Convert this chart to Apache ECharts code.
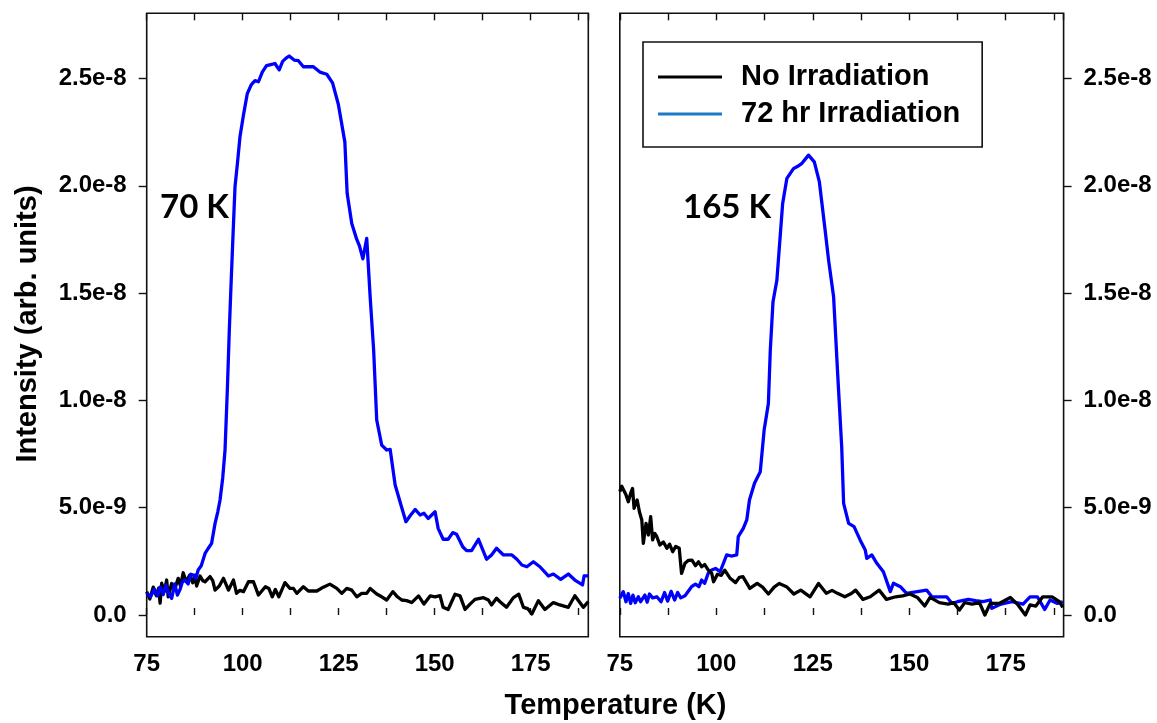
<!DOCTYPE html>
<html><head><meta charset="utf-8">
<script src="https://cdn.jsdelivr.net/npm/echarts@6/dist/echarts.min.js"></script>
<style>html,body{margin:0;padding:0;background:#fff}#c{width:1157px;height:723px}</style>
</head><body><div id="c"></div><script>
// Temperatures (K) and intensities (units of 1e-9, arb.)
const leftBlackT = [75,75.8,76.7,77.5,78.1,78.5,78.9,79.6,80.2,80.6,81.5,82.3,83.2,83.8,84.5,85.3,86.2,87.0,87.6,88.0,88.9,89.6,90.2,91.5,92.2,92.8,93.9,95.0,96.3,97.6,98.4,99.3,100.2,101.5,102.8,104.1,105.9,106.8,107.7,108.5,109.4,111.0,112.3,113.2,114.1,115.8,117.1,119.3,121.0,122.7,124.5,125.8,127.1,128.4,129.7,131.0,132.3,133.2,134.9,136.2,137.5,139.1,140.3,141.4,142.7,144.0,145.8,147.2,148.8,150.1,151.4,152.2,153.5,155.3,156.6,157.9,159.2,160.5,162.7,164.0,164.8,166.1,167.0,168.7,170.5,171.9,173.1,174.2,175.3,177.0,178.7,180.9,182.6,184.8,186.5,188.7,190];
const leftBlackV = [1.09,0.75,1.3,0.9,1.25,0.55,1.48,1.1,1.63,0.85,1.47,1.2,1.71,1.35,1.97,1.55,1.86,1.5,1.86,1.35,1.82,1.6,1.55,1.79,1.6,1.16,1.35,1.71,1.16,1.63,1.01,1.15,1.09,1.55,1.55,0.93,1.32,1.24,0.85,1.19,0.85,1.51,1.24,1.24,1.01,1.32,1.12,1.12,1.3,1.44,1.24,1.01,1.24,1.16,0.85,1.01,1.01,1.24,0.98,0.85,0.7,1.09,0.85,0.7,0.67,0.58,0.89,0.51,0.89,0.85,0.9,0.36,0.26,0.97,0.89,0.26,0.51,0.73,0.81,0.7,0.47,0.78,0.62,0.36,0.81,0.97,0.36,0.3,0.05,0.67,0.26,0.58,0.47,0.36,0.9,0.36,0.62];

const leftBlueT = [75,76,77,77.8,78.5,79.3,80,80.7,81.5,82.3,83.0,83.7,84.3,85,85.8,86.5,87.1,87.8,88.4,89.2,90.2,91.0,91.9,92.8,93.5,94.1,94.8,95.4,96.0,96.5,96.9,97.5,98.0,98.6,99.3,100.2,101.2,102.2,103.2,104.1,105.1,106.2,107.3,108.4,109.5,110.4,111.3,112.1,113.4,114.5,115.8,117.1,118.4,120.1,121.9,123.4,124.9,126.6,127.2,128.4,129.7,130.4,131.3,132.3,133.2,134.1,134.9,136.2,137.5,138.4,139.7,141.1,142.5,143.7,144.9,146.2,147.2,148.3,150.1,150.9,152.2,153.5,154.7,155.7,157.3,158.3,159.6,161.4,163.5,164.8,166.1,167.9,170.1,171.4,172.7,174.0,175.7,177.4,179.6,180.9,182.8,184.8,186.5,188.5,188.9,190];
const leftBlueV = [1.01,0.85,1.2,0.9,1.3,0.95,1.4,1.0,0.78,1.45,0.93,1.2,1.55,1.63,1.45,1.9,1.86,1.7,2.1,2.3,2.87,3.1,3.34,4.27,4.8,5.36,6.4,7.69,10.5,13.2,15.1,17.8,19.96,21.0,22.3,23.3,24.3,24.7,24.9,24.85,25.3,25.6,25.65,25.7,25.4,25.8,25.95,26.05,25.86,25.83,25.55,25.55,25.55,25.3,25.2,24.8,23.8,22.05,19.65,18.25,17.5,17.2,16.6,17.55,14.8,12.35,9.09,7.92,7.69,7.72,6.06,5.2,4.35,4.65,4.92,4.66,4.74,4.5,4.81,4.04,3.53,3.53,3.84,3.76,3.18,3.0,3.0,3.53,2.6,2.8,3.11,2.8,2.8,2.6,2.33,2.25,2.48,2.25,1.82,1.91,1.66,1.91,1.63,1.40,1.82,1.82];

const rightBlackT = [75.0,75.5,75.9,76.6,77.2,77.8,78.3,78.7,79.1,79.5,80.1,80.7,81.1,81.8,82.4,83.0,83.5,84.1,84.6,85.4,86.3,87.2,87.9,88.7,89.5,90.4,91.0,91.9,92.8,93.7,94.6,95.4,96.2,97.0,97.9,98.8,99.3,100.3,101.3,102.2,103.6,105.0,106.0,106.9,108.7,110.6,112.0,113.5,115.0,116.3,118.2,120.1,121.9,124.3,126.5,128.5,130.0,131.4,133.3,135.0,136.1,138.0,139.9,142.2,144.1,146.5,148.3,150.2,152.1,154.0,155.4,157.8,160.1,161.5,163.0,164.4,166.3,168.2,169.6,171.0,173.3,176.2,178.0,180.1,181.3,182.8,184.6,187.0,188.9,189.8];
const rightBlackV = [5.75,6.0,6.06,5.6,5.28,5.67,5.9,4.97,5.2,5.36,4.8,4.43,3.34,4.27,3.73,4.58,3.5,3.8,3.65,3.26,3.4,3.11,3.3,2.95,3.2,3.11,1.94,2.41,2.55,2.56,2.3,2.48,2.25,2.35,2.1,1.95,1.55,1.9,1.85,2.09,1.71,1.51,1.76,1.79,1.24,1.47,1.3,0.98,1.3,1.47,1.32,0.98,1.16,0.85,1.47,1.01,1.15,1.01,0.85,1.0,1.16,0.73,0.85,1.16,0.73,0.85,0.89,0.98,0.82,0.42,0.82,0.58,0.51,0.58,0.23,0.58,0.51,0.58,0.0,0.54,0.54,0.82,0.51,0.0,0.47,0.42,0.85,0.85,0.62,0.36];

const rightBlueT = [75.0,75.9,76.6,77.2,77.8,78.4,79.0,79.8,80.4,81.5,82.1,82.7,83.5,84.6,85.7,86.6,87.4,88.3,89.2,90.0,90.8,91.9,93.6,94.6,95.5,96.2,97.0,97.9,98.8,99.8,101.0,101.5,102.7,103.9,105.3,105.7,107.0,107.9,108.6,109.9,111.4,112.4,113.5,114.0,114.7,115.7,117.2,118.3,120.0,121.0,122.2,123.9,125.4,126.7,128.2,129.1,130.4,131.4,132.5,133.0,134.3,135.7,137.3,138.6,139.0,140.3,141.6,143.3,145.1,145.9,147.7,149.3,152.1,154.5,155.9,157.8,159.7,161.1,162.5,165.3,167.2,169.1,171.0,171.4,173.8,176.6,179.5,181.3,183.2,185.1,186.5,188.4,189.8];
const rightBlueV = [0.78,1.09,0.62,1.0,0.54,0.93,0.57,0.85,0.62,0.93,0.6,0.98,0.8,0.85,0.62,1.05,0.65,1.1,0.7,1.05,0.8,0.9,1.32,1.44,1.32,1.63,1.48,1.94,2.1,2.17,2.02,2.25,2.8,2.75,2.8,3.65,4.04,4.43,5.36,6.14,6.68,8.62,9.86,12.35,14.6,15.6,19.18,20.35,20.8,20.9,21.05,21.43,21.12,20.2,17.94,16.54,14.83,11.42,7.84,5.2,4.27,4.12,3.49,3.03,2.64,2.8,2.41,2.02,1.09,1.48,1.32,1.01,1.09,1.16,0.85,0.85,0.85,0.54,0.62,0.73,0.67,0.62,0.7,0.31,0.51,0.62,0.51,0.85,0.85,0.26,0.7,0.54,0.62];

const yTickValues = [0, 5, 10, 15, 20, 25];   // ×1e-9
const xLabelValues = [75, 100, 125, 150, 175];
const seriesNames = ['No Irradiation', '72 hr Irradiation'];
const panelLabels = ['70 K', '165 K'];

const zip = (t, v) => t.map((x, i) => [x, v[i]]);
const FONT = '"Liberation Sans", Arial, Helvetica, sans-serif';
const yFmt = v => v === 0 ? '0.0' : (v * 1e-9).toExponential(1);
const xFmt = v => (xLabelValues.indexOf(v) >= 0 ? String(v) : '');

const gridTop = 13.3, gridH = 623.4;
const grids = [
  {left: 146.7, top: gridTop, width: 441.6, height: gridH},
  {left: 619.8, top: gridTop, width: 443.8, height: gridH}
].map(g => Object.assign(g, {show: true, borderColor: '#111', borderWidth: 1.6, backgroundColor: 'transparent'}));

function xAxisFor(gi, pos) {
  return {
    type: 'value', gridIndex: gi, position: pos, min: 75, max: 190, interval: 12.5,
    axisLine: {show: false}, splitLine: {show: false},
    axisTick: {show: true, inside: true, length: 7, lineStyle: {color: '#111', width: 1.4}},
    axisLabel: {show: pos === 'bottom', formatter: xFmt, margin: 16, color: '#000',
      fontSize: 24, fontWeight: 'bold', fontFamily: FONT, showMinLabel: true, showMaxLabel: false}
  };
}
function yAxisFor(gi, pos) {
  return {
    type: 'value', gridIndex: gi, position: pos, min: -1.01, max: 28.04,
    axisLine: {show: false}, splitLine: {show: false},
    axisTick: {show: true, inside: false, length: 8, customValues: yTickValues, lineStyle: {color: '#111', width: 1.4}},
    axisLabel: {show: true, customValues: yTickValues, formatter: yFmt, margin: 20, color: '#000',
      fontSize: 24, fontWeight: 'bold', fontFamily: FONT}
  };
}

const lineSeries = (name, gi, data, color, z) => ({
  type: 'line', name, xAxisIndex: gi * 2, yAxisIndex: gi, data, showSymbol: false, symbol: 'none',
  lineStyle: {color, width: 3.3, join: 'round'}, itemStyle: {color}, z, animation: false
});

const chart = echarts.init(document.getElementById('c'), null, {renderer: 'canvas'});
chart.setOption({
  animation: false,
  backgroundColor: '#fff',
  grid: grids,
  xAxis: [xAxisFor(0, 'bottom'), xAxisFor(0, 'top'), xAxisFor(1, 'bottom'), xAxisFor(1, 'top')],
  yAxis: [yAxisFor(0, 'left'), yAxisFor(1, 'right')],
  legend: {
    orient: 'vertical', left: 643, top: 42,
    borderColor: '#111', borderWidth: 1.6, padding: [20, 22, 18, 15],
    itemWidth: 64, itemHeight: 3, itemGap: 7, icon: 'rect', selectedMode: false,
    textStyle: {fontSize: 29, fontWeight: 'bold', fontFamily: FONT, color: '#000', lineHeight: 30, padding: [0, 0, 0, 14]},
    data: [
      {name: seriesNames[0], itemStyle: {color: '#000'}},
      {name: seriesNames[1], itemStyle: {color: '#1e78c8'}}
    ]
  },
  graphic: [
    {type: 'text', x: 27.5, y: 324, rotation: Math.PI / 2,
      style: {text: 'Intensity (arb. units)', align: 'center', verticalAlign: 'middle', font: 'bold 29px ' + FONT, fill: '#000'}},
    {type: 'text', x: 615.5, y: 706,
      style: {text: 'Temperature (K)', align: 'center', verticalAlign: 'middle', font: 'bold 29px ' + FONT, fill: '#000'}},
    {type: 'text', x: 160, y: 207,
      style: {text: panelLabels[0], align: 'left', verticalAlign: 'middle', font: 'bold 33px Lato, "Open Sans", sans-serif', fill: '#000'}},
    {type: 'text', x: 683, y: 207,
      style: {text: panelLabels[1], align: 'left', verticalAlign: 'middle', font: 'bold 33px Lato, "Open Sans", sans-serif', fill: '#000'}}
  ],
  series: [
    lineSeries(seriesNames[0], 0, zip(leftBlackT, leftBlackV), '#000', 2),
    lineSeries(seriesNames[1], 0, zip(leftBlueT, leftBlueV), '#0000ff', 3),
    lineSeries(seriesNames[1], 1, zip(rightBlueT, rightBlueV), '#0000ff', 2),
    lineSeries(seriesNames[0], 1, zip(rightBlackT, rightBlackV), '#000', 3)
  ]
});
</script></body></html>
